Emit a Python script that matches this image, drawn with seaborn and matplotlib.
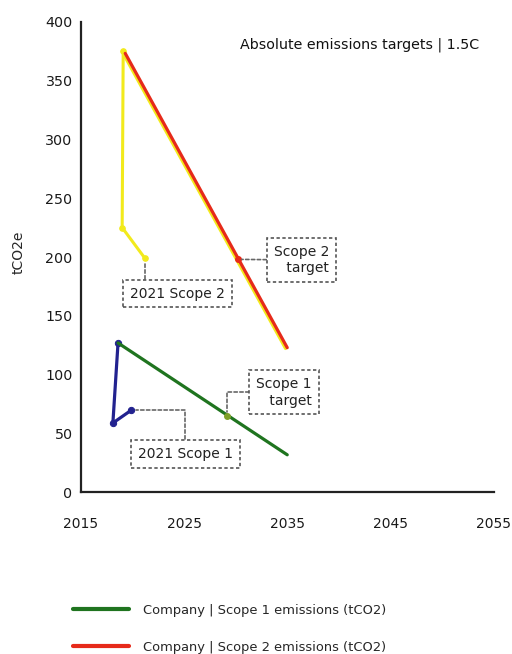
import matplotlib
matplotlib.use("Agg")
import matplotlib.pyplot as plt
import matplotlib.patheffects as pe
import seaborn as sns

sns.set_style("white")
plt.rcParams['font.family'] = ['DejaVu Sans']

# scope 2: company trajectory (red) and reported history (yellow)
s2_years = [2019.3, 2035.0]
s2_vals = [373, 123]
s2_hist_years = [2019.1, 2019.0, 2021.2]
s2_hist_vals = [375, 225, 199]
s2_target = (2030.2, 198)

# scope 1: company trajectory (green) and reported history (blue)
s1_years = [2018.6, 2035.0]
s1_vals = [127, 32]
s1_hist_years = [2018.6, 2018.1, 2019.9]
s1_hist_vals = [127, 59, 70]
s1_target = (2029.2, 65)

xticks = [2015, 2025, 2035, 2045, 2055]
yticks = [0, 50, 100, 150, 200, 250, 300, 350, 400]

GREEN = "#1f741f"
RED = "#e62a1a"
YELLOW = "#f2ea1c"
NAVY = "#22228f"

fig = plt.figure(figsize=(5.12, 6.54), dpi=100)
ax = fig.add_axes([0.158, 0.247, 0.806, 0.72])

sns.lineplot(x=s2_hist_years, y=s2_hist_vals, sort=False, estimator=None,
             color=YELLOW, lw=2.2, marker="o", ms=4, mec=YELLOW, ax=ax)
red_line = sns.lineplot(x=s2_years, y=s2_vals, sort=False, estimator=None,
                        color=RED, lw=2.3, ax=ax).lines[-1]
red_line.set_path_effects([pe.SimpleLineShadow(offset=(-1.2, -0.6), shadow_color=YELLOW, alpha=1, linewidth=2.3),
                           pe.Normal()])
sns.lineplot(x=s1_hist_years, y=s1_hist_vals, sort=False, estimator=None,
             color=NAVY, lw=2.3, marker="o", ms=4.5, mec=NAVY, ax=ax)
green_line = sns.lineplot(x=s1_years, y=s1_vals, sort=False, estimator=None,
                          color=GREEN, lw=2.3, ax=ax).lines[-1]
ax.plot(*s2_target, "o", color=RED, ms=4)
ax.plot(*s1_target, "o", color="#7fa02a", ms=4)

ax.set_xlim(2015, 2055)
ax.set_ylim(0, 400)
ax.set_xticks(xticks)
ax.set_yticks(yticks)
ax.tick_params(axis="x", length=0, pad=18, labelsize=10)
ax.tick_params(axis="y", length=0, pad=6, labelsize=10.3)
for lab in ax.get_xticklabels() + ax.get_yticklabels():
    lab.set_color("#1a1a1a")
ax.set_ylabel("tCO2e", fontsize=10)
ax.yaxis.set_label_coords(-0.135, 0.51)
sns.despine(ax=ax)
for s in ["left", "bottom"]:
    ax.spines[s].set_linewidth(1.6)
    ax.spines[s].set_color("#222222")

ax.text(0.966, 0.951, "Absolute emissions targets | 1.5C", transform=ax.transAxes,
        ha="right", va="center", fontsize=10.3, color="#111111")

box = dict(boxstyle="square,pad=0.5", fc="white", ec="#555555", lw=1.2, ls=(0, (2, 1.5)))
arrow = dict(arrowstyle="-", color="#666666", lw=1.2, ls=(0, (2, 1.5)), shrinkA=0, shrinkB=3)

ax.annotate("2021 Scope 2", xy=(s2_hist_years[-1], s2_hist_vals[-1]), xytext=(2024.4, 169),
            ha="center", va="center", fontsize=10, color="#222222", bbox=box,
            arrowprops=dict(arrow, connectionstyle="angle,angleA=0,angleB=90,rad=0"))
ax.annotate("Scope 2\n target", xy=s2_target, xytext=(2036.4, 197.5),
            ha="center", va="center", fontsize=10, color="#222222", multialignment="right",
            bbox=box, arrowprops=dict(arrow, connectionstyle="arc3"))
ax.annotate("Scope 1\n target", xy=s1_target, xytext=(2034.7, 85),
            ha="center", va="center", fontsize=10, color="#222222", multialignment="right",
            bbox=box, arrowprops=dict(arrow, connectionstyle="angle,angleA=0,angleB=90,rad=0"))
ax.annotate("2021 Scope 1", xy=(s1_hist_years[-1], s1_hist_vals[-1]), xytext=(2025.1, 33),
            ha="center", va="center", fontsize=10, color="#222222", bbox=box,
            arrowprops=dict(arrow, connectionstyle="angle,angleA=90,angleB=0,rad=0"))

leg = fig.legend([plt.Line2D([], [], color=GREEN, lw=3), plt.Line2D([], [], color=RED, lw=3)],
                 ["Company | Scope 1 emissions (tCO2)", "Company | Scope 2 emissions (tCO2)"],
                 loc="upper left", bbox_to_anchor=(0.12, 0.095), frameon=False,
                 fontsize=9.4, handlelength=4.3, handletextpad=1.05, labelspacing=1.85)

fig.savefig("out.png", dpi=100)
